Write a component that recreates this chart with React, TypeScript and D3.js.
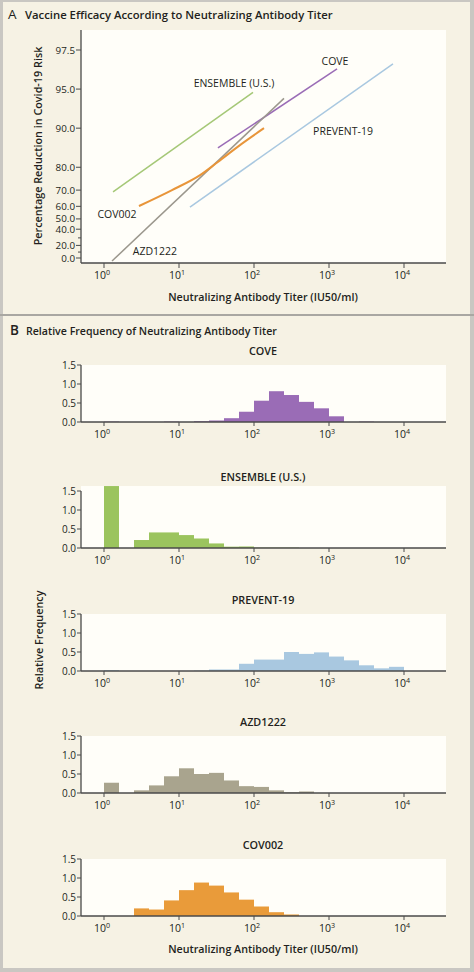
import React from "react";
import * as d3 from "d3";

// ---------- Panel A data ----------
const efficacySeries = ["ENSEMBLE (U.S.)", "COVE", "PREVENT-19", "AZD1222", "COV002"];
const ensembleCurve: [number, number][] = [[1.32, 69], [97, 94.7]];
const coveCurve: [number, number][] = [[33, 85.8], [1280, 96.5]];
const preventCurve: [number, number][] = [[14, 59.5], [7130, 96.8]];
const azdCurve: [number, number][] = [[1.28, -5.5], [251, 94.1]];
const cov002Curve: [number, number][] = [[2.93, 60.2], [8.07, 70], [19.1, 77], [33, 81.8], [65, 86.5], [136, 90]];
const yTickValues = [0, 20, 40, 50, 60, 70, 80, 90, 95, 97.5];
const yMinorTicks = [10, 30];
const xTickExponents = [0, 1, 2, 3, 4];

// ---------- Panel B data (bins of 0.2 log10 units starting at 10^0) ----------
const histNames = ["COVE", "ENSEMBLE (U.S.)", "PREVENT-19", "AZD1222", "COV002"];
const coveFreq = [0.01, 0, 0, 0, 0.01, 0, 0.02, 0.04, 0.1, 0.27, 0.56, 0.81, 0.71, 0.53, 0.36, 0.15, 0, 0.01, 0, 0];
const ensembleFreq = [1.63, 0, 0.21, 0.41, 0.41, 0.34, 0.25, 0.12, 0.035, 0.04, 0.01, 0.01, 0.01, 0, 0, 0, 0, 0, 0, 0];
const preventFreq = [0.02, 0, 0, 0, 0, 0, 0.01, 0.04, 0.04, 0.19, 0.3, 0.3, 0.5, 0.45, 0.49, 0.38, 0.28, 0.15, 0.07, 0.11];
const azdFreq = [0.27, 0, 0.07, 0.2, 0.44, 0.65, 0.5, 0.53, 0.33, 0.18, 0.16, 0.07, 0.02, 0.04, 0, 0, 0, 0, 0, 0];
const cov002Freq = [0, 0, 0.2, 0.17, 0.41, 0.68, 0.88, 0.8, 0.62, 0.43, 0.25, 0.1, 0.04, 0, 0, 0, 0, 0, 0, 0];
const histYTicks = [0, 0.5, 1.0, 1.5];
const binWidthLog = 0.2;

const FONT = "'Open Sans', 'DejaVu Sans', sans-serif";
const BG = "#f6f2e4";
const PLOT_BG = "#fffef9";
const AXIS = "#4a4a4a";
const TEXT = "#231f20";

const lineColors = ["#a5c877", "#9a6cb6", "#a9c8e0", "#9b978d", "#e8953a"];
const barColors = ["#9a6cb6", "#9bc45e", "#a9c8e0", "#a9a48e", "#e99b3a"];

// Scales
const PLOT_LEFT = 81;
const PLOT_RIGHT = 446;
const xScale = d3
  .scaleLog()
  .domain([Math.pow(10, (PLOT_LEFT - 104) / 75), Math.pow(10, (PLOT_RIGHT - 104) / 75)])
  .range([PLOT_LEFT, PLOT_RIGHT]);

const riskT = (p: number) => -Math.log(1 - p / 100);
const yLin = d3.scaleLinear().domain([0, riskT(97.5)]).range([258, 50]);
const yScale = (p: number) => yLin(riskT(p));

function Pow10({ x, y, e, size = 10.5 }: { x: number; y: number; e: number; size?: number }) {
  return (
    <text x={x} y={y} textAnchor="middle" fontSize={size} fill={TEXT} fontFamily={FONT}>
      10
      <tspan dy={-4} fontSize={size * 0.68}>
        {e}
      </tspan>
    </text>
  );
}

function PanelA() {
  const curves = [ensembleCurve, coveCurve, preventCurve, azdCurve, cov002Curve];
  const line = d3
    .line<[number, number]>()
    .x((d) => xScale(d[0]))
    .y((d) => yScale(d[1]))
    .curve(d3.curveMonotoneX);
  const plotTop = 30;
  const base = 263;
  const labels = [
    { name: efficacySeries[0], x: 234, y: 87, anchor: "middle" },
    { name: efficacySeries[1], x: 335, y: 65, anchor: "middle" },
    { name: efficacySeries[2], x: 343, y: 135, anchor: "middle" },
    { name: efficacySeries[3], x: 155, y: 255, anchor: "middle" },
    { name: efficacySeries[4], x: 117, y: 218, anchor: "middle" },
  ];
  return (
    <g>
      <text x={8} y={19} fontSize={13.5} fontFamily={FONT} fill={TEXT}>A</text>
      <text x={25} y={19} fontSize={11.3} fontWeight={600} fontFamily={FONT} fill={TEXT}>
        Vaccine Efficacy According to Neutralizing Antibody Titer
      </text>
      <rect x={PLOT_LEFT} y={plotTop} width={PLOT_RIGHT - PLOT_LEFT} height={base - plotTop} fill={PLOT_BG} />
      {curves.map((c, i) => (
        <path key={i} d={line(c) || ""} fill="none" stroke={lineColors[i]} strokeWidth={i === 4 ? 2 : 1.5} />
      ))}
      {labels.map((l, i) => (
        <text key={i} x={l.x} y={l.y} textAnchor={l.anchor as any} fontSize={10.5} fontFamily={FONT} fill={TEXT}>
          {l.name}
        </text>
      ))}
      {/* axes */}
      <line x1={PLOT_LEFT} x2={PLOT_LEFT} y1={plotTop} y2={base} stroke={AXIS} strokeWidth={1.3} />
      <line x1={PLOT_LEFT} x2={PLOT_RIGHT} y1={base} y2={base} stroke={AXIS} strokeWidth={1.3} />
      {yTickValues.map((v) => (
        <g key={v}>
          <line x1={PLOT_LEFT - 5} x2={PLOT_LEFT} y1={yScale(v)} y2={yScale(v)} stroke={AXIS} strokeWidth={1} />
          <text x={PLOT_LEFT - 6} y={yScale(v) + 3.5} textAnchor="end" fontSize={9.8} fontFamily={FONT} fill={TEXT}>
            {v.toFixed(1)}
          </text>
        </g>
      ))}
      {yMinorTicks.map((v) => (
        <line key={v} x1={PLOT_LEFT - 3} x2={PLOT_LEFT} y1={yScale(v)} y2={yScale(v)} stroke={AXIS} strokeWidth={1} />
      ))}
      {xTickExponents.map((e) => {
        const x = xScale(Math.pow(10, e));
        return (
          <g key={e}>
            <line x1={x} x2={x} y1={base} y2={base + 5} stroke={AXIS} strokeWidth={1} />
            <Pow10 x={x - 2} y={base + 16} e={e} />
          </g>
        );
      })}
      <text
        transform={`translate(42,146) rotate(-90)`}
        textAnchor="middle"
        fontSize={10.8}
        fontWeight={600}
        fontFamily={FONT}
        fill={TEXT}
      >
        Percentage Reduction in Covid-19 Risk
      </text>
      <text x={263} y={301} textAnchor="middle" fontSize={10.7} fontWeight={600} fontFamily={FONT} fill={TEXT}>
        Neutralizing Antibody Titer (IU50/ml)
      </text>
    </g>
  );
}

function Histogram({ name, freq, color, base }: { name: string; freq: number[]; color: string; base: number }) {
  const y = d3.scaleLinear().domain([0, 1.5]).range([base, base - 57]);
  const maxV = d3.max(freq) || 0;
  const top = Math.min(y(1.5), y(maxV));
  return (
    <g>
      <text x={263} y={base - 67} textAnchor="middle" fontSize={10.8} fontWeight={600} fontFamily={FONT} fill={TEXT}>
        {name}
      </text>
      <rect x={PLOT_LEFT} y={top} width={PLOT_RIGHT - PLOT_LEFT} height={base - top} fill={PLOT_BG} />
      {freq.map((f, i) => {
        if (f <= 0) return null;
        const x0 = xScale(Math.pow(10, i * binWidthLog));
        const x1 = xScale(Math.pow(10, (i + 1) * binWidthLog));
        return <rect key={i} x={x0} y={y(f)} width={x1 - x0} height={base - y(f)} fill={color} />;
      })}
      <line x1={PLOT_LEFT} x2={PLOT_LEFT} y1={y(1.5)} y2={base} stroke={AXIS} strokeWidth={1.3} />
      <line x1={PLOT_LEFT} x2={PLOT_RIGHT} y1={base} y2={base} stroke={AXIS} strokeWidth={1.3} />
      {histYTicks.map((v) => (
        <g key={v}>
          <line x1={PLOT_LEFT - 4} x2={PLOT_LEFT} y1={y(v)} y2={y(v)} stroke={AXIS} strokeWidth={1} />
          <text x={PLOT_LEFT - 5} y={y(v) + 3.5} textAnchor="end" fontSize={10} fontFamily={FONT} fill={TEXT}>
            {v.toFixed(1)}
          </text>
        </g>
      ))}
      {xTickExponents.map((e) => {
        const x = xScale(Math.pow(10, e));
        return (
          <g key={e}>
            <line x1={x} x2={x} y1={base} y2={base + 4} stroke={AXIS} strokeWidth={1} />
            <Pow10 x={x - 2} y={base + 16} e={e} />
          </g>
        );
      })}
    </g>
  );
}

export default function App() {
  const freqs = [coveFreq, ensembleFreq, preventFreq, azdFreq, cov002Freq];
  const bases = [422, 548, 671, 793, 916];
  return (
    <div style={{ position: "absolute", left: 0, top: 0 }}>
      <svg width={474} height={972} style={{ display: "block" }}>
        <rect x={0} y={0} width={474} height={972} fill="#c9c7c2" />
        <rect x={3} y={2} width={467} height={966} fill={BG} />
        <line x1={0} x2={474} y1={315} y2={315} stroke="#a9a7a2" strokeWidth={2} />
        <PanelA />
        <text x={10} y={335} fontSize={13.5} fontFamily={FONT} fontWeight={600} fill={TEXT}>B</text>
        <text x={26} y={335} fontSize={10.6} fontWeight={600} fontFamily={FONT} fill={TEXT}>
          Relative Frequency of Neutralizing Antibody Titer
        </text>
        {histNames.map((n, i) => (
          <Histogram key={n} name={n} freq={freqs[i]} color={barColors[i]} base={bases[i]} />
        ))}
        <text
          transform={`translate(43,640) rotate(-90)`}
          textAnchor="middle"
          fontSize={10.8}
          fontWeight={600}
          fontFamily={FONT}
          fill={TEXT}
        >
          Relative Frequency
        </text>
        <text x={263} y={953} textAnchor="middle" fontSize={10.7} fontWeight={600} fontFamily={FONT} fill={TEXT}>
          Neutralizing Antibody Titer (IU50/ml)
        </text>
      </svg>
    </div>
  );
}
